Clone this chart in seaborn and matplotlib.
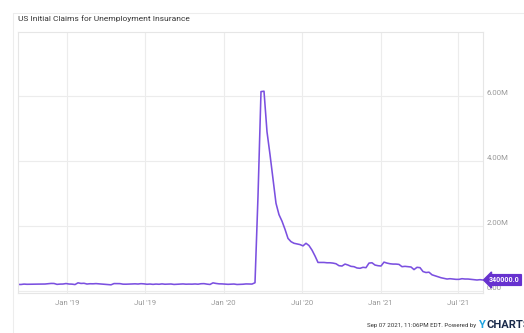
import pandas as pd
import seaborn as sns
import matplotlib.pyplot as plt
import matplotlib.dates as mdates
from matplotlib.ticker import FixedLocator, FuncFormatter
from matplotlib.transforms import ScaledTranslation


# weekly initial claims, thousands (week ending Saturday)
claims_2018 = [204, 202, 214, 208, 210, 214, 216, 214, 214, 216, 224, 234, 233, 206, 214, 216, 231]
claims_2019 = [216, 213, 200, 253, 234, 239, 216, 225, 223, 229, 221, 211, 202,
               196, 192, 230, 230, 228, 212, 211, 216, 218, 222, 216, 227, 221,
               209, 216, 206, 215, 209, 220, 210, 215, 217, 204, 208, 213, 219,
               211, 214, 212, 218, 211, 225, 228, 213, 203, 252, 234, 222, 220]
claims_2020 = [214, 207, 211, 216, 202, 205, 210, 219, 217, 215, 256, 2920, 6137,
               6149, 4900, 4200, 3450, 2700, 2350, 2150, 1900, 1620, 1520, 1470,
               1450, 1430, 1390, 1470, 1400, 1260, 1080, 880, 880, 880, 870, 870,
               860, 840, 780, 770, 830, 800, 760, 750, 710, 700, 730, 720, 860,
               870, 800, 780]
claims_2021 = [770, 890, 860, 840, 830, 830, 820, 750, 760, 750, 740, 660, 730,
               720, 600, 570, 580, 500, 470, 440, 410, 390, 370, 380, 370, 360,
               360, 380, 370, 370, 360, 350, 340, 350, 340]

first_week = '2018-09-08'
last_week = '2021-08-28'
y_ticks = [0, 2e6, 4e6, 6e6]
x_ticks = ['2019-01-01', '2019-07-01', '2020-01-01', '2020-07-01', '2021-01-01', '2021-07-01']

LINE = '#7b50e0'
TAG = '#6732cf'
GRID = '#ececec'
TICK = '#9a9a9a'

values = [v * 1000 for v in claims_2018 + claims_2019 + claims_2020 + claims_2021]
weeks = pd.date_range(first_week, last_week, freq='7D')
df = pd.DataFrame({'week': weeks, 'claims': values})

sns.set_theme(style='white')
plt.rcParams['font.family'] = ['Roboto', 'DejaVu Sans']

fig = plt.figure(figsize=(5.24, 3.33), dpi=100)
ax = fig.add_axes([18 / 524, 1 - 293 / 333, 465 / 524, 261.3 / 333])

sns.lineplot(data=df, x='week', y='claims', ax=ax, color=LINE, linewidth=1.15)

ax.set_xlim(df['week'].iloc[0], df['week'].iloc[-1])
ax.set_ylim(-0.06e6, 7.98e6)
ax.set_xlabel('')
ax.set_ylabel('')

ax.xaxis.set_major_locator(FixedLocator(mdates.date2num(pd.to_datetime(x_ticks))))
ax.xaxis.set_major_formatter(mdates.DateFormatter("%b '%y"))
ax.yaxis.set_major_locator(FixedLocator(y_ticks))
ax.yaxis.set_major_formatter(FuncFormatter(lambda v, p: '0.00' if v == 0 else f'{v / 1e6:.2f}M'))
ax.yaxis.tick_right()

ax.grid(True, color=GRID, linewidth=0.8)
ax.tick_params(axis='both', length=0, labelsize=5.6, labelcolor=TICK)
ax.tick_params(axis='x', pad=5)
ax.tick_params(axis='y', pad=2.5)
for lab in ax.get_yticklabels():
    lab.set_transform(lab.get_transform() + ScaledTranslation(0, 2.5 / 72, fig.dpi_scale_trans))
    lab.set_horizontalalignment('left')

for side in ax.spines.values():
    side.set_color('#e6e6e6')
    side.set_linewidth(0.8)

# last value tag
last_x = mdates.date2num(df['week'].iloc[-1])
last_y = df['claims'].iloc[-1]
ax.annotate(f'{last_y:.1f}', xy=(last_x, last_y), xytext=(4.5, 0), textcoords='offset points',
            ha='left', va='center', fontsize=5.0, fontweight='bold', color='white',
            bbox=dict(boxstyle='larrow,pad=0.2', fc=TAG, ec=TAG), annotation_clip=False)

# card frame
fig.add_artist(plt.Line2D([12.5 / 524, 1], [1 - 13 / 333, 1 - 13 / 333], color='#ededed', lw=0.8))
fig.add_artist(plt.Line2D([12.5 / 524, 12.5 / 524], [0, 1 - 13 / 333], color='#ededed', lw=0.8))

fig.text(18 / 524, 1 - 19 / 333, 'US Initial Claims for Unemployment Insurance',
         fontsize=6.0, color='#333333', ha='left', va='center')

fig.text(478 / 524, 1 - 326 / 333, 'Sep 07 2021, 11:06PM EDT. Powered by ',
         fontsize=4.4, color='#333333', ha='right', va='center')
fig.text(479 / 524, 1 - 325 / 333, 'Y', fontsize=8, fontweight='bold', color='#1fa3e0',
         ha='left', va='center')
fig.text(486.5 / 524, 1 - 325 / 333, 'CHARTS', fontsize=8, fontweight='bold', color='#1a2a4a',
         ha='left', va='center')

fig.savefig('out.png', dpi=100)
